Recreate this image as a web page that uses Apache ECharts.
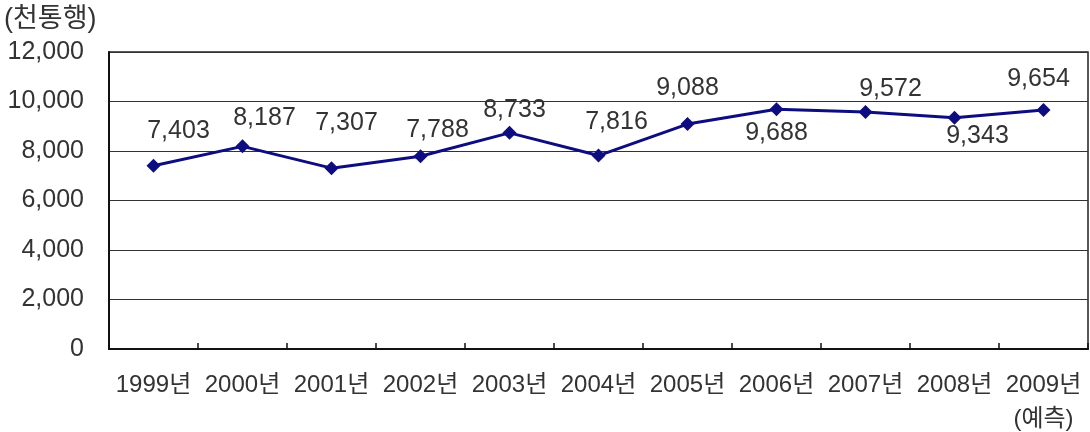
<!DOCTYPE html>
<html>
<head>
<meta charset="utf-8">
<script src="https://cdn.jsdelivr.net/npm/echarts@6/dist/echarts.min.js"></script>
<style>
html,body{margin:0;padding:0;background:#fff;}
#c{width:1090px;height:432px;}
</style>
</head>
<body>
<div id="c"></div>
<script>
const categories = ['1999년','2000년','2001년','2002년','2003년','2004년','2005년','2006년','2007년','2008년','2009년\n(예측)'];
const values = [7403, 8187, 7307, 7788, 8733, 7816, 9088, 9688, 9572, 9343, 9654];
const unitLabel = '(천통행)';

// label placement (style only): offset of each data label centre from its point
const labelOffsets = [[25,-35],[22,-28],[15,-45],[17,-26],[5,-23],[18,-33],[0,-36],[0,24],[25,-23],[23,18],[-5,-31]];

function commas(v){ return String(v).replace(/\B(?=(\d{3})+(?!\d))/g, ','); }
const FONT = '"Liberation Sans", "Noto Sans CJK KR", sans-serif';

const chart = echarts.init(document.getElementById('c'));
chart.setOption({
  animation: false,
  backgroundColor: '#fff',
  graphic: [{
    type: 'text', left: 4, top: 6,
    style: { text: unitLabel, font: '27px ' + FONT, fill: '#333' }
  }],
  grid: { left: 109, right: 2, top: 52, bottom: 83, show: true, borderColor: '#222', borderWidth: 1.5,
          containLabel: false, outerBoundsMode: 'none' },
  xAxis: {
    type: 'category',
    data: categories,
    boundaryGap: true,
    axisLine: { lineStyle: { color: '#111', width: 2 } },
    axisTick: { show: true, inside: true, length: 6, lineStyle: { color: '#111', width: 1.5 } },
    axisLabel: { color: '#333', fontSize: 24, fontFamily: FONT, margin: 19, lineHeight: 34, interval: 0 }
  },
  yAxis: {
    type: 'value', min: 0, max: 12000, interval: 2000,
    axisLine: { show: true, lineStyle: { color: '#111', width: 2 } },
    axisTick: { show: false },
    splitLine: { lineStyle: { color: '#333', width: 1.2 } },
    axisLabel: { color: '#333', fontSize: 25, fontFamily: FONT, margin: 25, formatter: v => commas(v) }
  },
  series: [{
    type: 'line',
    data: values.map((v, i) => ({ value: v, label: { offset: labelOffsets[i] } })),
    symbol: 'diamond', symbolSize: 14,
    lineStyle: { color: '#0d0d80', width: 3 },
    itemStyle: { color: '#0d0d80' },
    label: {
      show: true, position: 'inside', color: '#333', fontSize: 25, fontFamily: FONT,
      formatter: p => commas(p.value)
    }
  }]
});
</script>
</body>
</html>
